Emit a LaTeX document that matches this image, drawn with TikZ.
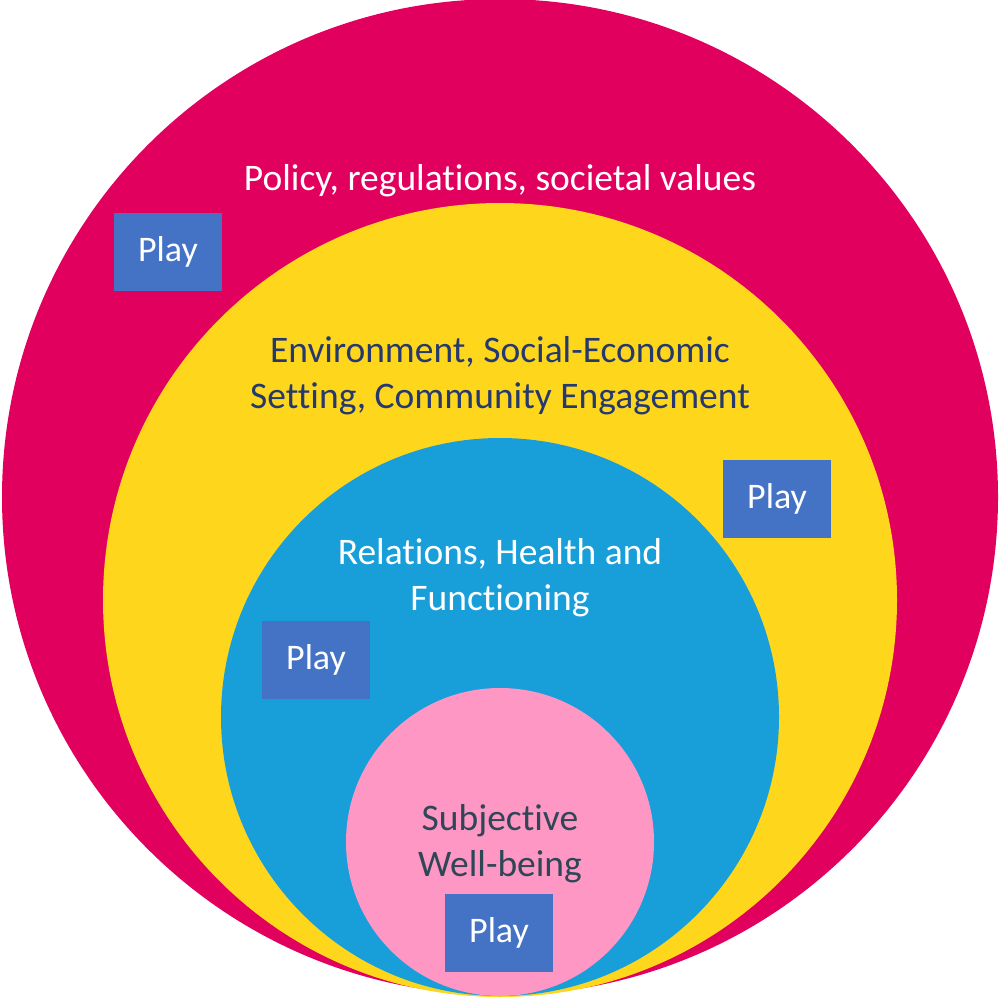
\documentclass[tikz,border=0pt]{standalone}
\usepackage{fontspec}
\setmainfont{Carlito}[Ligatures=NoCommon]
\definecolor{cMag}{HTML}{E2005F}
\definecolor{cYel}{HTML}{FED71D}
\definecolor{cBlu}{HTML}{189FDA}
\definecolor{cPnk}{HTML}{FF97C5}
\definecolor{cBox}{HTML}{4472C4}
\definecolor{cNavy}{HTML}{25396E}
\definecolor{cSlate}{HTML}{2E4656}
\tikzset{
  ring/.style={circle, inner sep=0pt, draw=none},
  playbox/.style={rectangle, fill=cBox, text=white, minimum width=108pt, minimum height=78pt, inner sep=0pt, font=\fontsize{36}{40}\selectfont},
  lbl/.style={align=center, inner sep=0pt, font=\fontsize{37.5}{46}\selectfont}
}
\begin{document}
\begin{tikzpicture}[x=1pt,y=-1pt]
\fill[white] (0,0) rectangle (1000,1000);
\useasboundingbox (0,0) rectangle (1000,1000);
\node[ring, fill=cMag, minimum size=996pt] (outer) at (500,497) {};
\node[ring, fill=cYel, minimum size=794pt] (env) at (500,600) {};
\node[ring, fill=cBlu, minimum size=558pt] (rel) at (500,717) {};
\node[ring, fill=cPnk, minimum size=308pt] (swb) at (500,842) {};
\node[lbl, text=white] (tpol) at (500,181) {Policy, regulations, societal values};
\node[lbl, text=cNavy] (tenv) at (500,376) {Environment, Social-Economic\\Setting, Community Engagement};
\node[lbl, text=white] (trel) at (500,578) {Relations, Health and\\Functioning};
\node[lbl, text=cSlate] (tswb) at (500,844) {Subjective\\Well-being};
\node[playbox] (p1) at (168,252) {Play};
\node[playbox] (p2) at (777,499) {Play};
\node[playbox] (p3) at (316,660) {Play};
\node[playbox] (p4) at (499,933) {Play};
\end{tikzpicture}
\end{document}
